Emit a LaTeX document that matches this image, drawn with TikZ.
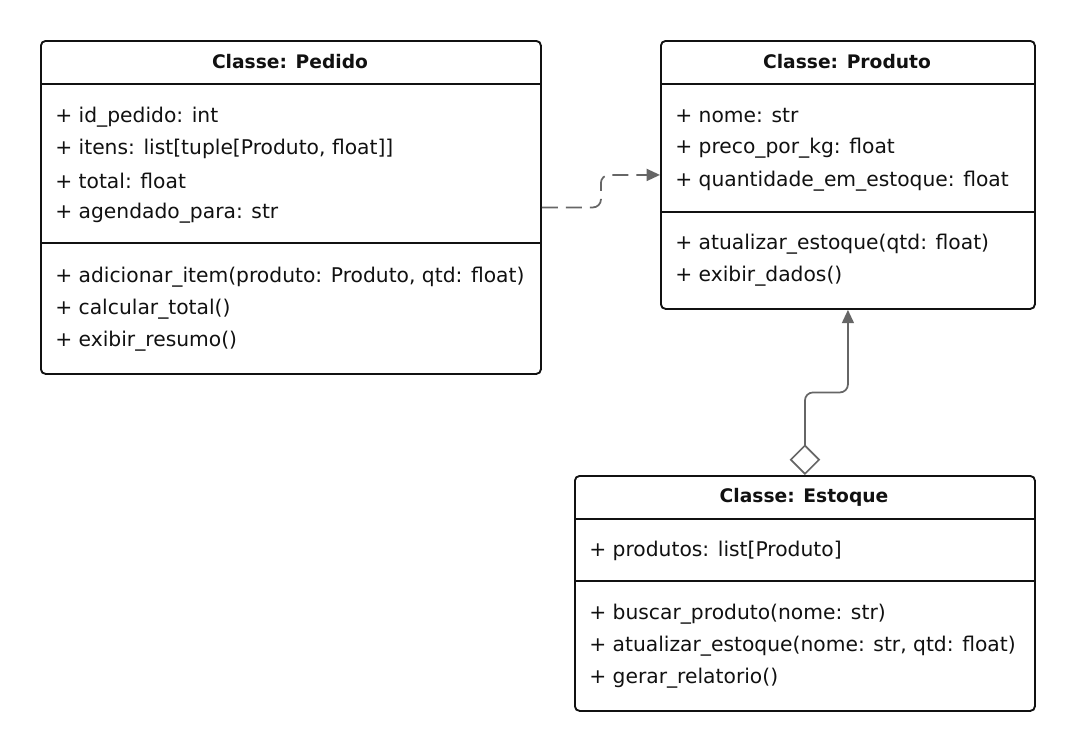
\documentclass[tikz,border=0pt]{standalone}
\usepackage{fontspec}
\setmainfont{DejaVu Sans}
\usetikzlibrary{arrows.meta, calc, positioning}
\definecolor{linegray}{HTML}{666666}
\definecolor{boxline}{HTML}{111111}

\begin{document}
\begin{tikzpicture}[x=0.75pt, y=-0.75pt,
  classbox/.style={draw=boxline, line width=1.4pt, rounded corners=3.5pt, fill=white, anchor=north west, inner sep=0pt},
  title/.style={font=\fontsize{14pt}{16pt}\selectfont\bfseries, text=boxline},
  member/.style={font=\fontsize{15.2pt}{17pt}\selectfont, text=boxline, anchor=west, inner sep=0pt},
  sep/.style={draw=boxline, line width=1.4pt},
  link/.style={draw=linegray, line width=1.3pt, rounded corners=6pt}]

\useasboundingbox (0,0) rectangle (1074,751);

% --- Classe: Pedido ---
\node[classbox, minimum width=375pt, minimum height=249.75pt] (pedido) at (40,40) {};
\node[title] (pedido-title) at (290,62) {Classe: Pedido};
\draw[sep] (40,84) -- (540,84);
\node[member] (ped-a1) at (55,117) {+ id\_pedido: int};
\node[member] (ped-a2) at (55,149) {+ itens: list[tuple[Produto, float]]};
\node[member] (ped-a3) at (55,181) {+ total: float};
\node[member] (ped-a4) at (55,213) {+ agendado\_para: str};
\draw[sep] (40,243) -- (540,243);
\node[member] (ped-m1) at (55,277) {+ adicionar\_item(produto: Produto, qtd: float)};
\node[member] (ped-m2) at (55,309) {+ calcular\_total()};
\node[member] (ped-m3) at (55,341) {+ exibir\_resumo()};

% --- Classe: Produto ---
\node[classbox, minimum width=280.5pt, minimum height=201pt] (produto) at (660,40) {};
\node[title] (produto-title) at (847,62) {Classe: Produto};
\draw[sep] (660,84) -- (1034,84);
\node[member] (pro-a1) at (675,116) {+ nome: str};
\node[member] (pro-a2) at (675,148) {+ preco\_por\_kg: float};
\node[member] (pro-a3) at (675,181) {+ quantidade\_em\_estoque: float};
\draw[sep] (660,212) -- (1034,212);
\node[member] (pro-m1) at (675,244) {+ atualizar\_estoque(qtd: float)};
\node[member] (pro-m2) at (675,276) {+ exibir\_dados()};

% --- Classe: Estoque ---
\node[classbox, minimum width=345pt, minimum height=176.25pt] (estoque) at (574,475) {};
\node[title] (estoque-title) at (804,497) {Classe: Estoque};
\draw[sep] (574,519) -- (1034,519);
\node[member] (est-a1) at (589,551) {+ produtos: list[Produto]};
\draw[sep] (574,581) -- (1034,581);
\node[member] (est-m1) at (589,614) {+ buscar\_produto(nome: str)};
\node[member] (est-m2) at (589,646) {+ atualizar\_estoque(nome: str, qtd: float)};
\node[member] (est-m3) at (589,678) {+ gerar\_relatorio()};

% dependency: Pedido uses Produto
\draw[link, dash pattern=on 12pt off 6pt, -{Triangle[length=10pt, width=9pt]}]
  (pedido.east) -| ($(pedido.east)!0.5!(produto.west)$) |- (produto.west);

% aggregation: Estoque holds Produto
\draw[link, {Diamond[open, fill=white, length=23pt, width=23pt]}-{Triangle[length=10pt, width=9pt]}]
  (estoque.north) |- ($(estoque.north)!0.5!(produto.south)$) -| (produto.south);

\end{tikzpicture}
\end{document}
